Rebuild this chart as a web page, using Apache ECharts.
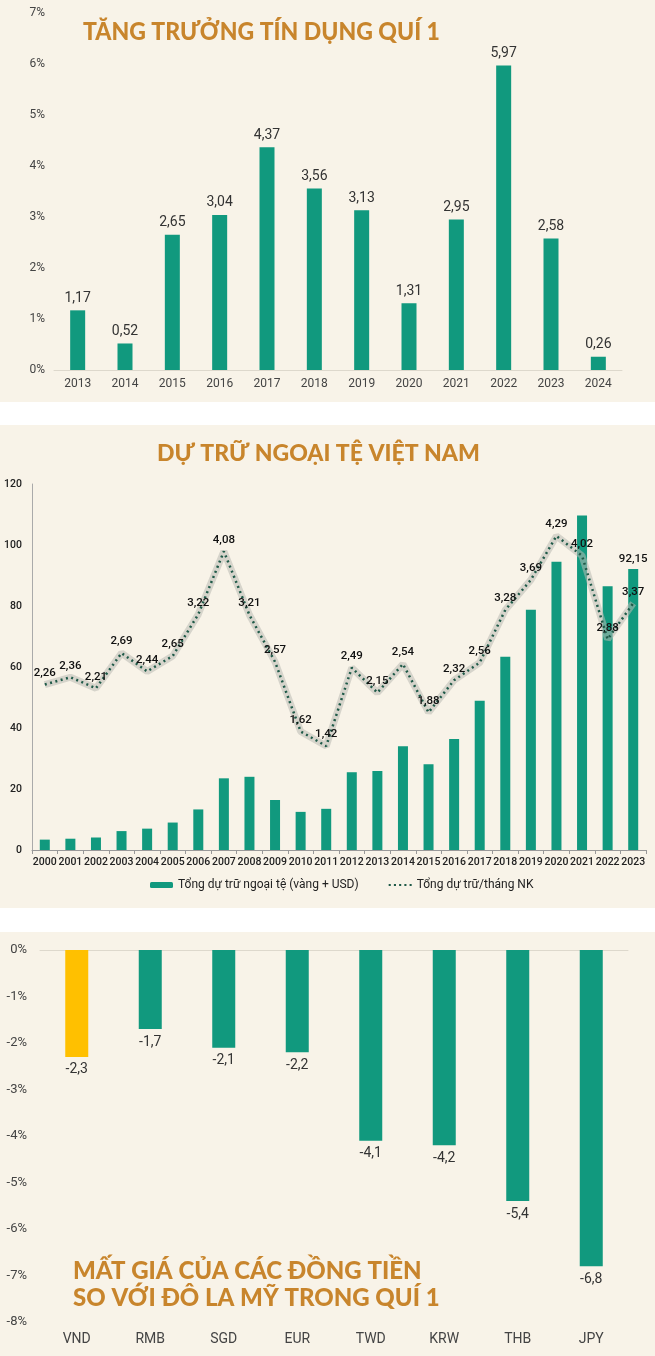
<!DOCTYPE html>
<html><head><meta charset="utf-8">
<script src="https://cdn.jsdelivr.net/npm/echarts@6/dist/echarts.min.js"></script>
<style>
html,body{margin:0;padding:0;background:#ffffff;width:655px;height:1356px;overflow:hidden}
.p{position:absolute;left:0;width:655px;background:#f8f3e8}
</style></head><body>
<div id="c1" class="p" style="top:0;height:402px"></div>
<div id="c2" class="p" style="top:425px;height:483px"></div>
<div id="c3" class="p" style="top:932px;height:424px"></div>
<script>
// ---------- data ----------
const creditYears = ['2013','2014','2015','2016','2017','2018','2019','2020','2021','2022','2023','2024'];
const creditGrowth = [1.17,0.52,2.65,3.04,4.37,3.56,3.13,1.31,2.95,5.97,2.58,0.26];

const reserveYears = ['2000','2001','2002','2003','2004','2005','2006','2007','2008','2009','2010','2011',
  '2012','2013','2014','2015','2016','2017','2018','2019','2020','2021','2022','2023'];
const reserveTotal = [3.4,3.7,4.1,6.2,7.0,9.0,13.3,23.5,24.0,16.4,12.5,13.5,
  25.5,25.9,34.0,28.1,36.4,48.9,63.4,78.8,94.5,109.7,86.5,92.15];
const reserveMonths = [2.26,2.36,2.21,2.69,2.44,2.65,3.22,4.08,3.21,2.57,1.62,1.42,
  2.49,2.15,2.54,1.88,2.32,2.56,3.28,3.69,4.29,4.02,2.88,3.37];

const currencies = ['VND','RMB','SGD','EUR','TWD','KRW','THB','JPY'];
const depreciation = [-2.3,-1.7,-2.1,-2.2,-4.1,-4.2,-5.4,-6.8];

const title1 = 'TĂNG TRƯỞNG TÍN DỤNG QUÍ 1';
const title2 = 'DỰ TRỮ NGOẠI TỆ VIỆT NAM';
const title3 = 'MẤT GIÁ CỦA CÁC ĐỒNG TIỀN\nSO VỚI ĐÔ LA MỸ TRONG QUÍ 1';
const legendBar = 'Tổng dự trữ ngoại tệ (vàng + USD)';
const legendLine = 'Tổng dự trữ/tháng NK';

// ---------- style ----------
const TEAL = '#11997e';
const YELLOW = '#ffc000';
const GOLD = '#c8852c';
const NARROW = "Roboto, sans-serif";
const TITLEF = "Lato, sans-serif";
const DOTS_ICON = 'path://M0,0h2v2h-2zM5,0h2v2h-2zM10,0h2v2h-2zM15,0h2v2h-2zM20,0h2v2h-2z';
const comma = v => String(v).replace('.', ',');

// ---------- chart 1 ----------
const ch1 = echarts.init(document.getElementById('c1'));
ch1.setOption({
  animation: false,
  grid: {left: 54, right: 33, top: 13, bottom: 32},
  graphic: [{type: 'text', left: 83, top: 19, scaleX: 0.92, style: {text: title1, fill: GOLD, font: '900 25px ' + TITLEF}}],
  xAxis: {type: 'category', data: creditYears,
    axisLine: {lineStyle: {color: '#ddd8cc'}}, axisTick: {show: false},
    axisLabel: {color: '#444', fontFamily: NARROW, fontSize: 12, margin: 8}},
  yAxis: {type: 'value', min: 0, max: 7, interval: 1,
    splitLine: {show: false}, axisLine: {show: false}, axisTick: {show: false},
    axisLabel: {color: '#444', fontFamily: NARROW, fontSize: 12, margin: 9, formatter: v => v + '%'}},
  series: [{type: 'bar', data: creditGrowth, barWidth: 15, itemStyle: {color: TEAL},
    label: {show: true, position: 'top', distance: 5, color: '#333', fontFamily: NARROW, fontSize: 14,
      formatter: p => comma(p.value)}}]
});

// ---------- chart 2 ----------
const ch2 = echarts.init(document.getElementById('c2'));
const lastIdx = reserveTotal.length - 1;
ch2.setOption({
  animation: false,
  grid: {left: 32, right: 9, top: 59, bottom: 58},
  graphic: [{type: 'text', left: 157, top: 17, style: {text: title2, fill: GOLD, font: '900 23px ' + TITLEF}}],
  legend: {top: 449, left: 145, itemGap: 30, itemWidth: 23, itemHeight: 6,
    data: [{name: legendBar}, {name: legendLine, icon: DOTS_ICON}],
    textStyle: {color: '#222', fontFamily: NARROW, fontSize: 12}},
  xAxis: {type: 'category', data: reserveYears,
    axisLine: {lineStyle: {color: '#999'}}, axisTick: {show: true, length: 4, lineStyle: {color: '#999'}},
    axisLabel: {color: '#222', fontFamily: NARROW, fontWeight: 500, fontSize: 10.5, margin: 7, interval: 0}},
  yAxis: [
    {type: 'value', min: 0, max: 120, interval: 20, splitLine: {show: false},
      axisLine: {show: true, lineStyle: {color: '#aaa'}}, axisTick: {show: false},
      axisLabel: {color: '#222', fontFamily: NARROW, fontWeight: 500, fontSize: 10.5, margin: 10}},
    {type: 'value', min: 0, max: 5, show: false}
  ],
  series: [
    {name: legendBar, type: 'bar', barWidth: 10, itemStyle: {color: TEAL},
      data: reserveTotal.map((v, i) => i === lastIdx ? {value: v, label: {show: true}} : v),
      label: {show: false, position: 'top', distance: 4, color: '#111', fontFamily: NARROW, fontWeight: 500, fontSize: 11.5,
        formatter: p => comma(p.value)}},
    {name: 'glow', type: 'line', yAxisIndex: 1, data: reserveMonths, symbol: 'none', silent: true,
      lineStyle: {color: 'rgba(185,185,178,0.55)', width: 7}},
    {name: legendLine, type: 'line', yAxisIndex: 1, data: reserveMonths, symbol: 'none', symbolKeepAspect: true,
      itemStyle: {color: '#1f5a48'},
      lineStyle: {color: '#1f5a48', width: 2.5, type: [2, 3.5]}},
    {name: 'labels', type: 'line', yAxisIndex: 1, data: reserveMonths, symbol: 'circle', symbolSize: 1,
      silent: true, itemStyle: {color: 'rgba(0,0,0,0)'}, lineStyle: {width: 0, color: 'rgba(0,0,0,0)'},
      label: {show: true, position: 'top', distance: 5, color: '#111', fontFamily: NARROW, fontWeight: 500, fontSize: 11.5,
        formatter: p => comma(p.value)}}
  ]
});

// ---------- chart 3 ----------
const ch3 = echarts.init(document.getElementById('c3'));
ch3.setOption({
  animation: false,
  grid: {left: 40, right: 27, top: 18, bottom: 34},
  graphic: [{type: 'text', left: 73, top: 326, style: {text: title3, fill: GOLD, font: '900 24px ' + TITLEF, lineHeight: 27}}],
  xAxis: [
    {type: 'category', data: currencies, position: 'bottom',
      axisLine: {show: false}, axisTick: {show: false},
      axisLabel: {color: '#444', fontFamily: NARROW, fontSize: 14, margin: 10}},
    {type: 'category', data: currencies, position: 'top',
      axisLine: {show: true, lineStyle: {color: '#ddd8cc'}}, axisTick: {show: false}, axisLabel: {show: false}}
  ],
  yAxis: {type: 'value', min: -8, max: 0, interval: 1, splitLine: {show: false},
    axisLine: {show: false}, axisTick: {show: false},
    axisLabel: {color: '#444', fontFamily: NARROW, fontSize: 13, margin: 13, formatter: v => v + '%'}},
  series: [{type: 'bar', barWidth: 23,
    data: currencies.map((c, i) => ({value: depreciation[i], itemStyle: {color: c === 'VND' ? YELLOW : TEAL}})),
    label: {show: true, position: 'bottom', distance: 6, color: '#333', fontFamily: NARROW, fontSize: 14,
      formatter: p => comma(p.value)}}]
});
</script>
</body></html>
